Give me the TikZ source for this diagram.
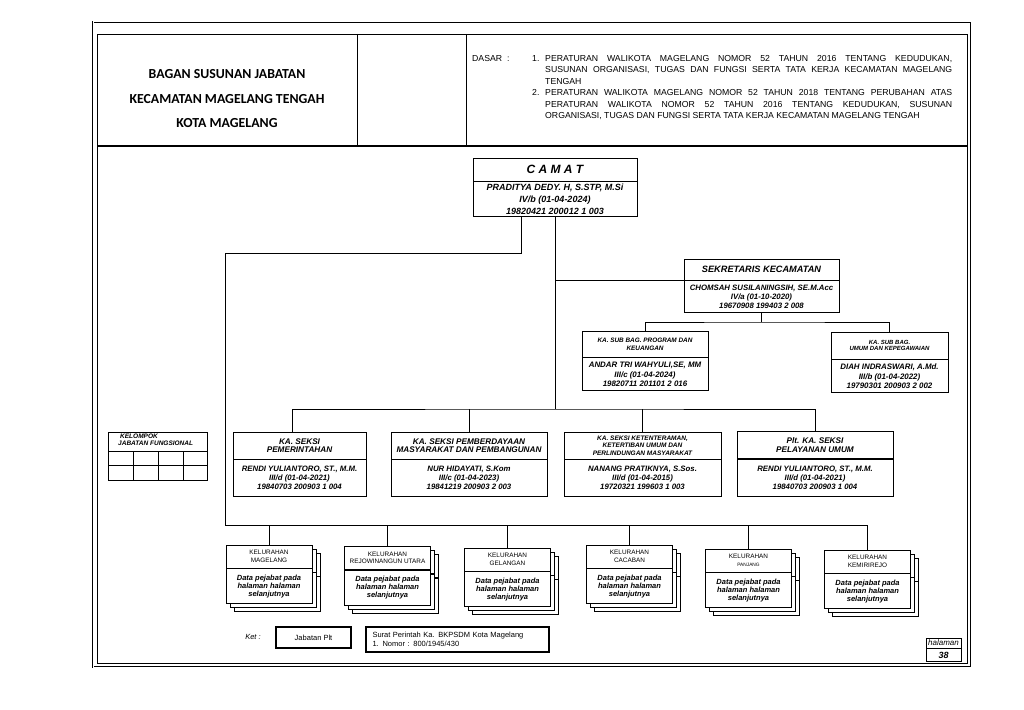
\documentclass[tikz,border=0pt]{standalone}
\usepackage{fontspec}
\setmainfont{Liberation Sans}
\newfontfamily\titlefont{Carlito}
\usetikzlibrary{positioning,shadows}

\newcommand*{\bi}{\bfseries\itshape}
\newcommand*{\dasarfont}{\fontsize{8.7}{11.5}\selectfont}
\newcommand*{\kelw}{86pt}
\newcommand*{\seksiw}{156pt}

\begin{document}
\begin{tikzpicture}
[
	x=1pt, y=-1pt,
	box/.style={draw, fill=white, line width=0.8pt, inner sep=1pt, align=center},
	conn/.style={line width=0.8pt},
	stack/.style={
		copy shadow={shadow xshift=8pt, shadow yshift=-8pt, fill=white, draw=black, line width=0.8pt},
		copy shadow={shadow xshift=4pt, shadow yshift=-4pt, fill=white, draw=black, line width=0.8pt}},
	seksihead/.style={box, minimum height=27pt, font=\fontsize{8.2}{8.6}\selectfont\bi},
	seksibody/.style={box, minimum height=37pt, font=\fontsize{7.8}{9}\selectfont\bi},
	kelhead/.style={box, stack, minimum width=\kelw, minimum height=23pt, font=\fontsize{6.4}{7.5}\selectfont},
	kelbody/.style={box, stack, minimum width=\kelw, minimum height=35pt, font=\fontsize{7.5}{8}\selectfont\bi},
	legbox/.style={draw, line width=1.8pt, inner sep=2pt}
]
	\useasboundingbox (0,0) rectangle (1024,709);

	% frame and header
	\draw[line width=0.7pt, double, double distance=1pt] (93,22) rectangle (971,667);
	\draw[line width=0.8pt] (97,34) rectangle (967,663);
	\draw[line width=1.1pt] (97,146) -- (967,146);
	\draw[line width=0.8pt] (357,34) -- (357,146) (466,34) -- (466,146);

	\node[font=\titlefont\bfseries\fontsize{13.8}{24.5}\selectfont, align=center] (title) at (227,99)
		{BAGAN SUSUNAN JABATAN\\KECAMATAN MAGELANG TENGAH\\KOTA MAGELANG};

	\node[anchor=north west, inner sep=0pt, font=\dasarfont] (dasar) at (472,55) {DASAR\hspace{5pt}:};
	\node[anchor=north west, inner sep=0pt, font=\dasarfont] (no1) at (532,55) {1.};
	\node[anchor=north west, inner sep=0pt, font=\dasarfont, text width=407pt, align=justify] (dasar1) at (545,55)
		{PERATURAN WALIKOTA MAGELANG NOMOR 52 TAHUN 2016 TENTANG KEDUDUKAN,\linebreak
		SUSUNAN ORGANISASI, TUGAS DAN FUNGSI SERTA TATA KERJA KECAMATAN MAGELANG\linebreak
		TENGAH};
	\node[anchor=north west, inner sep=0pt, font=\dasarfont] (no2) at (532,89.5) {2.};
	\node[anchor=north west, inner sep=0pt, font=\dasarfont, text width=407pt, align=justify] (dasar2) at (545,89.5)
		{PERATURAN WALIKOTA MAGELANG NOMOR 52 TAHUN 2018 TENTANG PERUBAHAN ATAS\linebreak
		PERATURAN WALIKOTA NOMOR 52 TAHUN 2016 TENTANG KEDUDUKAN, SUSUNAN\linebreak
		ORGANISASI, TUGAS DAN FUNGSI SERTA TATA KERJA KECAMATAN MAGELANG TENGAH};

	% camat and sekretaris
	\node[box, minimum width=164pt, minimum height=23pt, font=\fontsize{12}{14}\selectfont\bi] (camath) at (555,169.5) {C A M A T};
	\node[box, below=0pt of camath, minimum width=164pt, minimum height=35pt, font=\fontsize{9}{12}\selectfont\bi] (camatb)
		{PRADITYA DEDY. H, S.STP, M.Si\\IV/b (01-04-2024)\\19820421 200012 1 003};

	\node[box, minimum width=155pt, minimum height=21pt, font=\fontsize{9.2}{10}\selectfont\bi] (sekh) at (761.5,269.5) {SEKRETARIS KECAMATAN};
	\node[box, below=0pt of sekh, minimum width=155pt, minimum height=32pt, font=\fontsize{7.8}{8.7}\selectfont\bi] (sekb)
		{CHOMSAH SUSILANINGSIH, SE.M.Acc\\IV/a (01-10-2020)\\19670908 199403 2 008};

	\node[box, minimum width=126pt, minimum height=26pt, font=\fontsize{6.4}{7.8}\selectfont\bi] (sub1h) at (645,344)
		{KA. SUB BAG. PROGRAM DAN\\KEUANGAN};
	\node[box, below=0pt of sub1h, minimum width=126pt, minimum height=33pt, font=\fontsize{7.9}{9.5}\selectfont\bi] (sub1b)
		{ANDAR TRI WAHYULI,SE, MM\\III/c (01-04-2024)\\19820711 201101 2 016};

	\node[box, minimum width=117pt, minimum height=27pt, font=\fontsize{6}{6.8}\selectfont\bi] (sub2h) at (889.5,345.5)
		{KA. SUB BAG.\\UMUM DAN KEPEGAWAIAN};
	\node[box, below=0pt of sub2h, minimum width=117pt, minimum height=33pt, font=\fontsize{7.9}{9.5}\selectfont\bi] (sub2b)
		{DIAH INDRASWARI, A.Md.\\III/b (01-04-2022)\\19790301 200903 2 002};

	% seksi
	\node[seksihead, minimum width=133pt] (s1h) at (299.5,445.5) {KA. SEKSI\\PEMERINTAHAN};
	\node[seksibody, minimum width=133pt, below=0pt of s1h] (s1b)
		{RENDI YULIANTORO, ST., M.M.\\III/d (01-04-2021)\\19840703 200903 1 004};
	\node[seksihead, minimum width=\seksiw] (s2h) at (469,445.5) {KA. SEKSI PEMBERDAYAAN\\MASYARAKAT DAN PEMBANGUNAN};
	\node[seksibody, minimum width=\seksiw, below=0pt of s2h] (s2b)
		{NUR HIDAYATI, S.Kom\\III/c (01-04-2023)\\19841219 200903 2 003};
	\node[seksihead, minimum width=157pt, font=\fontsize{6.5}{7.4}\selectfont\bi] (s3h) at (642.5,445.5)
		{KA. SEKSI KETENTERAMAN,\\KETERTIBAN UMUM DAN\\PERLINDUNGAN MASYARAKAT};
	\node[seksibody, minimum width=157pt, below=0pt of s3h] (s3b)
		{NANANG PRATIKNYA, S.Sos.\\III/d (01-04-2015)\\19720321 199603 1 003};
	\node[seksihead, minimum width=\seksiw] (s4h) at (815,445) {Plt. KA. SEKSI\\PELAYANAN UMUM};
	\node[seksibody, minimum width=\seksiw, below=0pt of s4h] (s4b)
		{RENDI YULIANTORO, ST., M.M.\\III/d (01-04-2021)\\19840703 200903 1 004};

	% kelompok jabatan fungsional
	\node[draw, line width=0.8pt, minimum width=99pt, minimum height=48pt, inner sep=0pt, anchor=north west] (kjf) at (108,432) {};
	\draw[line width=0.8pt] (108,451) -- (207,451) (108,465) -- (207,465)
		(133,451) -- (133,480) (158,451) -- (158,480) (183,451) -- (183,480);
	\node[anchor=north west, inner sep=0pt, align=left, font=\fontsize{6.5}{6.8}\selectfont\bi] (kjftext) at (118,434)
		{\hspace{2pt}KELOMPOK\\JABATAN FUNGSIONAL};

	% kelurahan
	\node[kelhead] (kel1h) at (269,556.5) {KELURAHAN\\MAGELANG};
	\node[kelbody, below=0pt of kel1h] (kel1b) {Data pejabat pada\\halaman halaman\\selanjutnya};
	\node[kelhead] (kel2h) at (387.5,558) {KELURAHAN\\REJOWINANGUN UTARA};
	\node[kelbody, below=0pt of kel2h] (kel2b) {Data pejabat pada\\halaman halaman\\selanjutnya};
	\node[kelhead] (kel3h) at (507.5,559.5) {KELURAHAN\\GELANGAN};
	\node[kelbody, below=0pt of kel3h] (kel3b) {Data pejabat pada\\halaman halaman\\selanjutnya};
	\node[kelhead] (kel4h) at (629.5,556.5) {KELURAHAN\\CACABAN};
	\node[kelbody, below=0pt of kel4h] (kel4b) {Data pejabat pada\\halaman halaman\\selanjutnya};
	\node[kelhead] (kel5h) at (748.5,560.5) {KELURAHAN\\{\fontsize{4.8}{5}\selectfont PANJANG}};
	\node[kelbody, below=0pt of kel5h] (kel5b) {Data pejabat pada\\halaman halaman\\selanjutnya};
	\node[kelhead] (kel6h) at (867.5,561.5) {KELURAHAN\\KEMIRIREJO};
	\node[kelbody, below=0pt of kel6h] (kel6b) {Data pejabat pada\\halaman halaman\\selanjutnya};

	% connectors
	\coordinate (sbus) at (555,409);
	\coordinate (subbus) at (761.5,322);
	\coordinate (lcorner) at (225,253);
	\coordinate (kbus) at (225,525);

	\draw[conn] (camatb.south) -- (sbus);
	\draw[conn] (camatb.south |- sekh.south) -- (sekh.south west);
	\draw[conn] (sekb.south) -- (subbus);
	\draw[conn] (sub1h.north) |- (subbus) -| (sub2h.north);

	\draw[conn] ([xshift=-7pt]s1h.north) |- (sbus) -| (s4h.north);
	\draw[conn] (s2h.north) -- (s2h.north |- sbus);
	\draw[conn] (s3h.north) -- (s3h.north |- sbus);

	\draw[conn] ([xshift=-34pt]camatb.south) |- (lcorner) -- (kbus) -| (kel6h.north);
	\draw[conn] (kel1h.north) -- (kel1h.north |- kbus);
	\draw[conn] (kel2h.north) -- (kel2h.north |- kbus);
	\draw[conn] (kel3h.north) -- (kel3h.north |- kbus);
	\draw[conn] (kel4h.north) -- (kel4h.north |- kbus);
	\draw[conn] (kel5h.north) -- (kel5h.north |- kbus);

	% keterangan
	\node[font=\fontsize{7.5}{8}\selectfont\itshape] (ket) at (253,637) {Ket :};
	\node[legbox, minimum width=75pt, minimum height=21pt, font=\fontsize{7.5}{8}\selectfont] (plt) at (313.5,637.5) {Jabatan Plt};
	\node[legbox, minimum width=183pt, minimum height=25pt, text width=170pt, align=left, font=\fontsize{7.5}{9.5}\selectfont] (surat) at (457.5,639.5)
		{Surat Perintah Ka. BKPSDM Kota Magelang\\1. Nomor : 800/1945/430};

	\node[box, minimum width=35pt, minimum height=10pt, inner sep=0pt, font=\fontsize{8}{8}\selectfont\itshape] (hal) at (943.5,643) {halaman};
	\node[box, below=0pt of hal, minimum width=35pt, minimum height=13pt, inner sep=0pt, font=\fontsize{9}{10}\selectfont\bi] (halno) {38};

\end{tikzpicture}
\end{document}
